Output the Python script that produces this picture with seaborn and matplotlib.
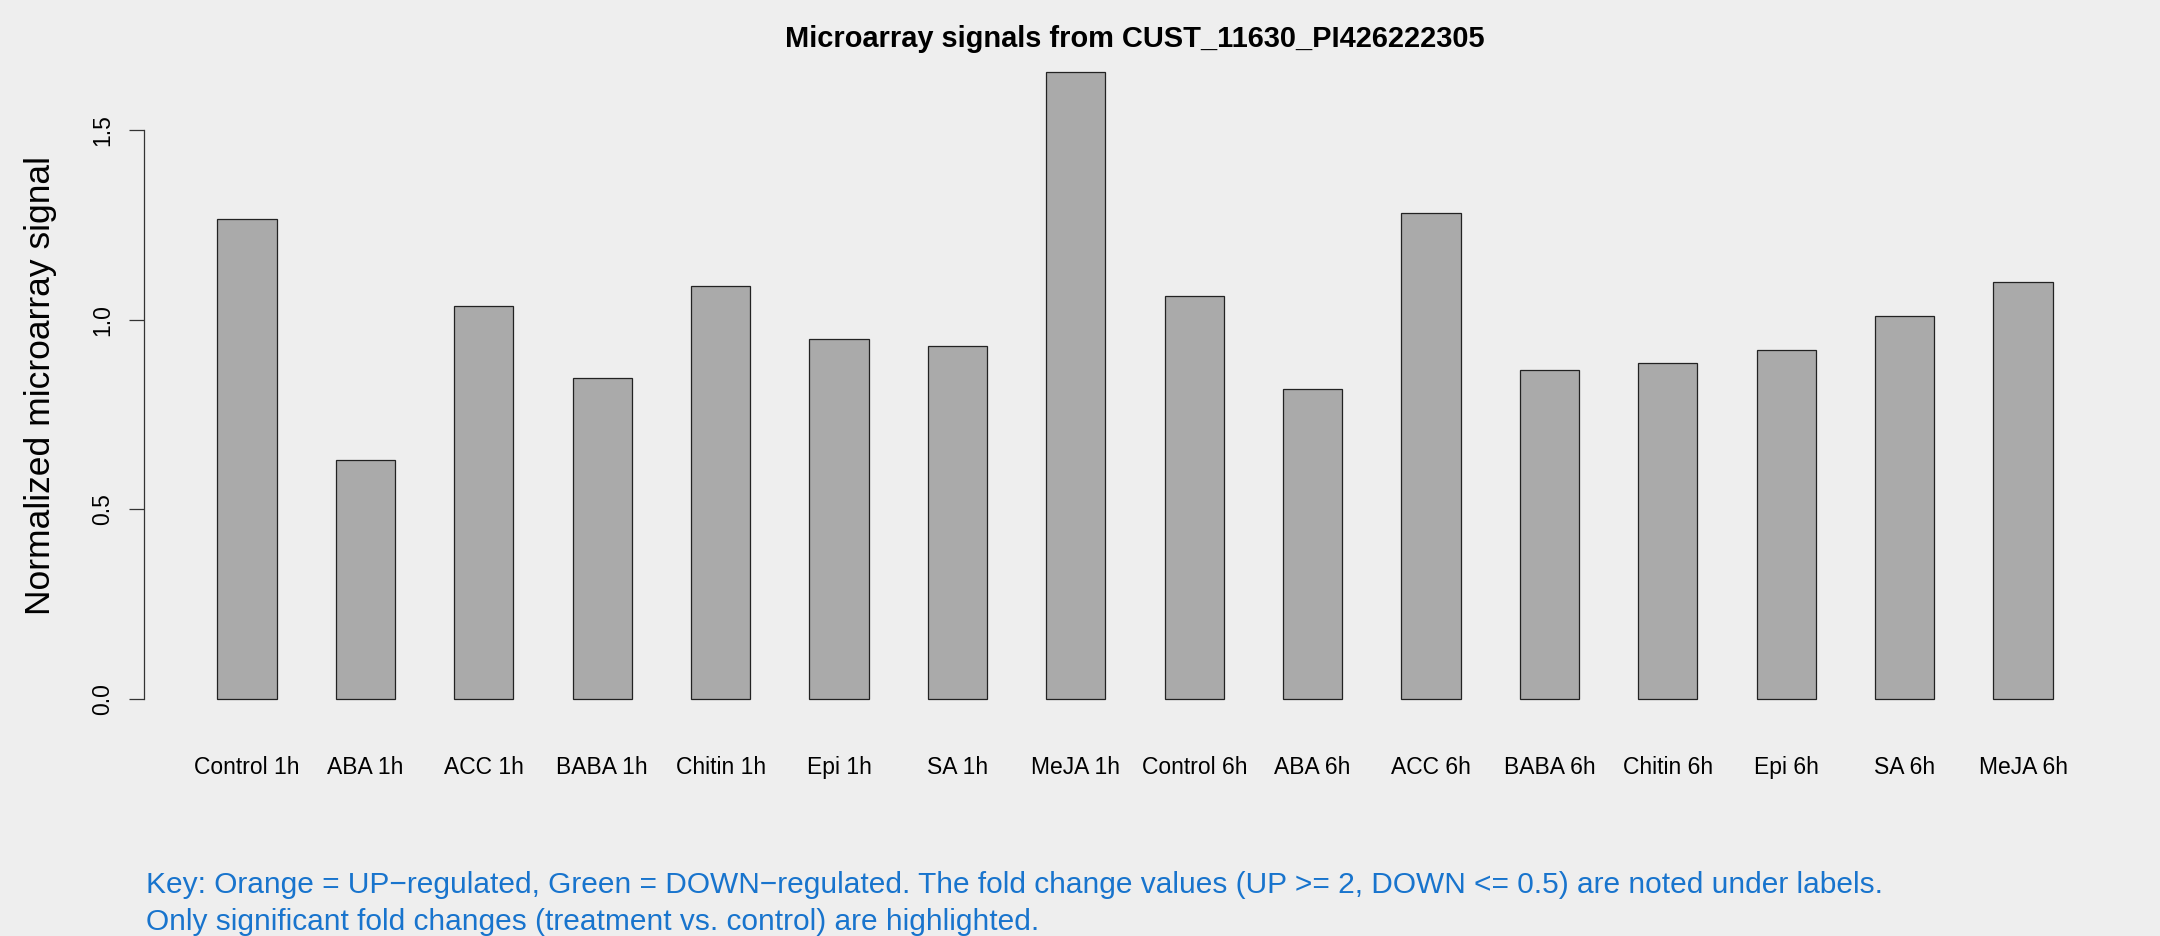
import pandas as pd
import seaborn as sns
import matplotlib.pyplot as plt

probe = "CUST_11630_PI426222305"

conditions = ["Control 1h", "ABA 1h", "ACC 1h", "BABA 1h", "Chitin 1h", "Epi 1h", "SA 1h", "MeJA 1h",
              "Control 6h", "ABA 6h", "ACC 6h", "BABA 6h", "Chitin 6h", "Epi 6h", "SA 6h", "MeJA 6h"]
signals = [1.266, 0.629, 1.037, 0.846, 1.089, 0.950, 0.931, 1.655,
           1.064, 0.818, 1.283, 0.867, 0.887, 0.921, 1.010, 1.101]
y_ticks = [0.0, 0.5, 1.0, 1.5]

key_lines = [
    "Key: Orange = UP\u2212regulated, Green = DOWN\u2212regulated. The fold change values (UP >= 2, DOWN <= 0.5) are noted under labels.",
    "Only significant fold changes (treatment vs. control) are highlighted.",
]

bg = "#EEEEEE"
sns.set_style("white", rc={"figure.facecolor": bg, "axes.facecolor": bg,
                           "text.color": "black", "axes.labelcolor": "black",
                           "xtick.color": "black", "ytick.color": "black"})
plt.rcParams["font.family"] = ["Liberation Sans", "DejaVu Sans"]

df = pd.DataFrame({"condition": conditions, "signal": signals})

fig = plt.figure(figsize=(21.6, 9.36), dpi=100)
ax = fig.add_axes([0.0667, 0.2266, 0.9176, 0.7236])

sns.barplot(data=df, x="condition", y="signal", color="#AAAAAA", saturation=1,
            width=0.5, edgecolor="#222222", linewidth=0.9, ax=ax)

# R style limits: 4% padding around the bars
ymax = max(signals)
ax.set_ylim(-0.04 * ymax, ymax * 1.04)
ax.set_xlim(-0.87, len(conditions) - 1 + 0.87)

for side in ["top", "right", "bottom"]:
    ax.spines[side].set_visible(False)
ax.spines["left"].set_bounds(y_ticks[0], y_ticks[-1])
ax.spines["left"].set_color("#333333")
ax.spines["left"].set_linewidth(0.9)

ax.set_yticks(y_ticks)
ax.set_yticklabels([f"{t:.1f}" for t in y_ticks], rotation=90, va="center")
ax.tick_params(axis="y", left=True, length=10.5, width=0.9, color="#333333",
               labelcolor="black", labelsize=16.5, pad=11)
ax.tick_params(axis="x", bottom=False, length=0, labelcolor="black", labelsize=16.5, pad=23)

ax.set_xlabel("")
ax.set_ylabel("Normalized microarray signal", fontsize=25.5, color="black")
ax.yaxis.set_label_coords(-0.0522, 0.5)
ax.yaxis.label.set_verticalalignment("center")

ax.set_title(f"Microarray signals from {probe}", fontsize=20.9, fontweight="bold",
             color="black", pad=0)

fig.text(146 / 2160, 1 - 893 / 936, key_lines[0], color="#1874CD", fontsize=21.5)
fig.text(146 / 2160, 1 - 930 / 936, key_lines[1], color="#1874CD", fontsize=21.5)

plt.savefig("out.png", dpi=100, facecolor=bg)
